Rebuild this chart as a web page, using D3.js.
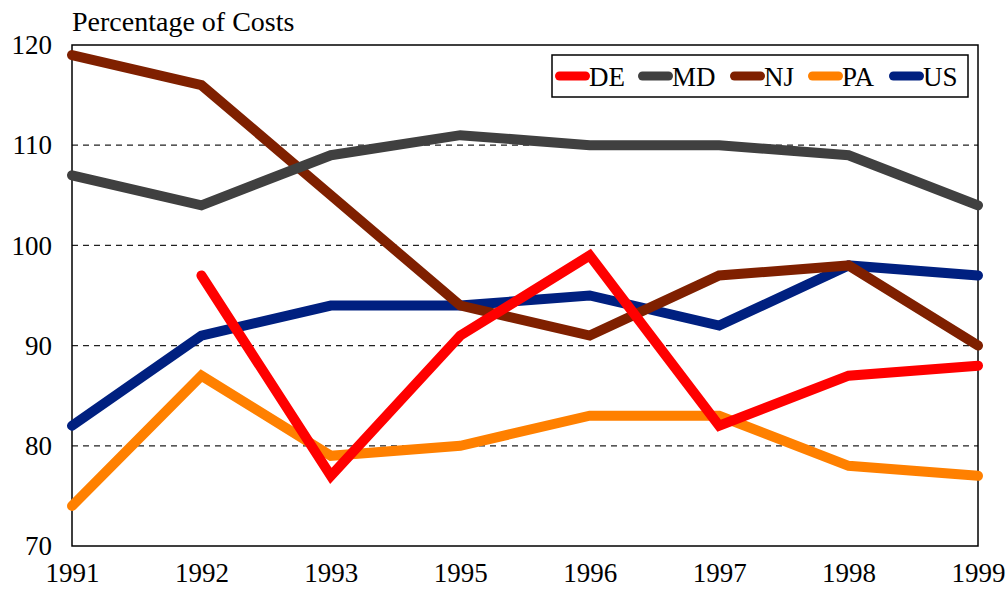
<!DOCTYPE html>
<html>
<head>
<meta charset="utf-8">
<script src="https://cdn.jsdelivr.net/npm/d3@7"></script>
<style>
  html, body { margin: 0; padding: 0; background: #fff; }
  text { font-family: "Liberation Serif", "Times New Roman", serif; fill: #000; }
</style>
</head>
<body>
<svg id="chart" width="1008" height="591"></svg>
<script>
// Years on the category axis (1994 is not reported)
const years = ["1991", "1992", "1993", "1995", "1996", "1997", "1998", "1999"];

// Percentage of costs by state
const deValues = [null, 97, 77, 91, 99, 82, 87, 88];
const mdValues = [107, 104, 109, 111, 110, 110, 109, 104];
const njValues = [119, 116, 105, 94, 91, 97, 98, 90];
const paValues = [74, 87, 79, 80, 83, 83, 78, 77];
const usValues = [82, 91, 94, 94, 95, 92, 98, 97];

const yTicks = [70, 80, 90, 100, 110, 120];
const gridValues = [80, 90, 100, 110];

const seriesNames = ["DE", "MD", "NJ", "PA", "US"];
const seriesColors = ["#ff0000", "#404040", "#7f2000", "#ff8000", "#002080"];
const seriesValues = [deValues, mdValues, njValues, paValues, usValues];

const series = seriesNames.map((name, i) => ({
  name, color: seriesColors[i], values: seriesValues[i]
}));

const margin = { left: 72, right: 30, top: 45, bottom: 45 };
const width = 1008, height = 591;
const svg = d3.select("#chart");

const x = d3.scalePoint().domain(years).range([margin.left, width - margin.right]);
const y = d3.scaleLinear().domain([70, 120]).range([height - margin.bottom, margin.top]);

// dashed gridlines
svg.append("g")
  .selectAll("line")
  .data(gridValues)
  .join("line")
  .attr("x1", margin.left).attr("x2", width - margin.right)
  .attr("y1", d => y(d)).attr("y2", d => y(d))
  .attr("stroke", "#222").attr("stroke-width", 1.2)
  .attr("stroke-dasharray", "6,5");

// plot frame
svg.append("rect")
  .attr("x", margin.left).attr("y", margin.top)
  .attr("width", width - margin.left - margin.right)
  .attr("height", height - margin.top - margin.bottom)
  .attr("fill", "none").attr("stroke", "#000").attr("stroke-width", 1.5);

// y axis labels
const yAxis = d3.axisLeft(y).tickValues(yTicks).tickSize(0).tickPadding(20);
const gy = svg.append("g").attr("transform", `translate(${margin.left},0)`).call(yAxis);
gy.select(".domain").remove();
gy.selectAll("text")
  .style("font-family", "'Liberation Serif', serif")
  .style("font-size", "27px").attr("fill", "#000");

// x axis labels
const xAxis = d3.axisBottom(x).tickSize(0).tickPadding(17);
const gx = svg.append("g").attr("transform", `translate(0,${height - margin.bottom})`).call(xAxis);
gx.select(".domain").remove();
gx.selectAll("text")
  .style("font-family", "'Liberation Serif', serif")
  .style("font-size", "27px").attr("fill", "#000");

// axis title
svg.append("text")
  .attr("x", 72).attr("y", 31)
  .style("font-size", "28px")
  .text("Percentage of Costs");

// series lines, last series drawn first so DE ends on top
const line = d3.line()
  .defined(d => d != null)
  .x((d, i) => x(years[i]))
  .y(d => y(d));

svg.append("g")
  .selectAll("path")
  .data(series.slice().reverse())
  .join("path")
  .attr("d", d => line(d.values))
  .attr("fill", "none")
  .attr("stroke", d => d.color)
  .attr("stroke-width", 10)
  .attr("stroke-linecap", "round")
  .attr("stroke-linejoin", "miter");

// legend
const legend = svg.append("g");
legend.append("rect")
  .attr("x", 552).attr("y", 55).attr("width", 416).attr("height", 42)
  .attr("fill", "#fff").attr("stroke", "#000").attr("stroke-width", 1.5);

const legendX = [555, 638, 730, 808, 889];
const item = legend.selectAll("g.item")
  .data(series)
  .join("g")
  .attr("class", "item")
  .attr("transform", (d, i) => `translate(${legendX[i]},76)`);
item.append("line")
  .attr("x1", 4.5).attr("x2", 30.5).attr("y1", 0).attr("y2", 0)
  .attr("stroke", d => d.color).attr("stroke-width", 9)
  .attr("stroke-linecap", "round");
item.append("text")
  .attr("x", 34).attr("y", 10)
  .style("font-size", "27px")
  .text(d => d.name);
</script>
</body>
</html>
